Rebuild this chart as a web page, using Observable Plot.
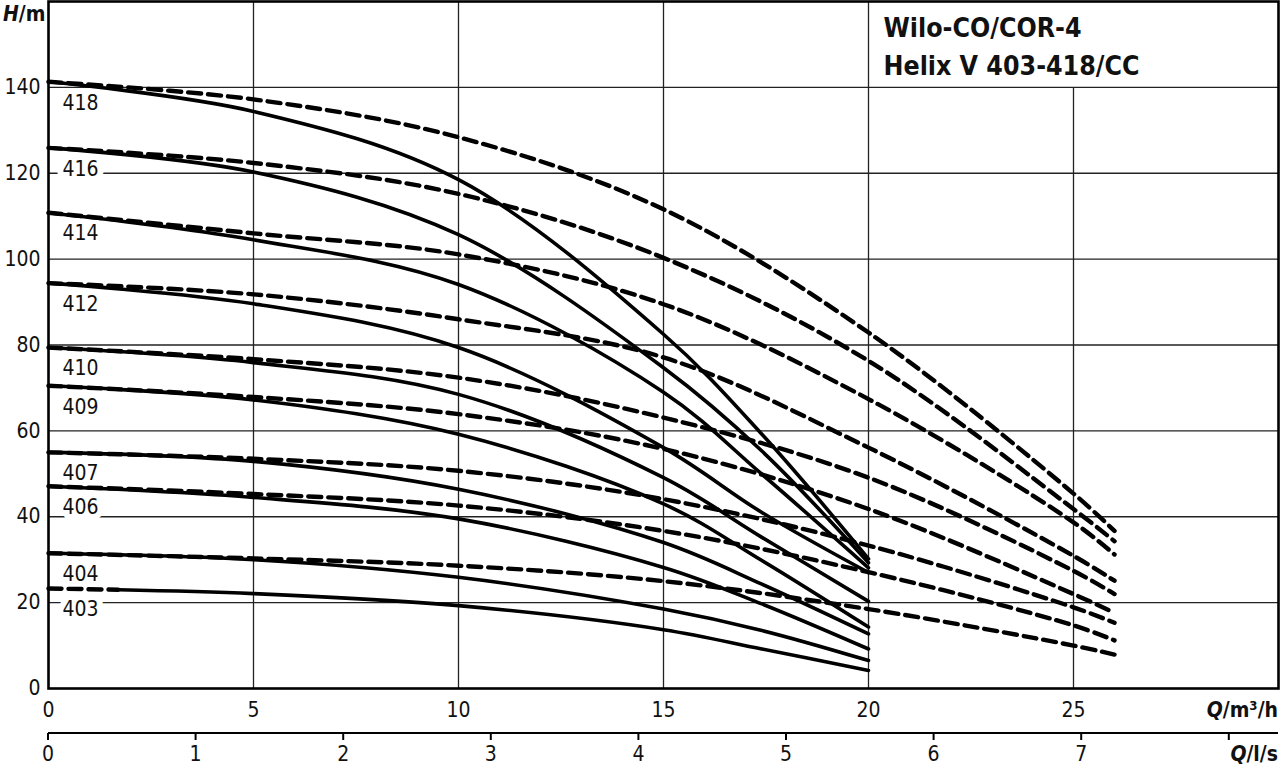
<!DOCTYPE html>
<html><head><meta charset="utf-8">
<script src="https://cdn.jsdelivr.net/npm/d3@7"></script>
<script src="https://cdn.jsdelivr.net/npm/@observablehq/plot@0.6"></script>
<style>
html,body{margin:0;padding:0;background:#fff;}
#chart svg{display:block;}
</style>
</head><body><div id="chart"></div>
<script>
// Pump types
const pumps = ["403","404","406","407","409","410","412","414","416","418"];

// Solid curves (Q in m³/h, H in m)
const solidQ = [0, 5, 10, 15, 17.4, 20];
const solidQ403 = [1.7, 5, 10, 15, 17.4, 20];
const solidH = [
  [23.0, 22.1, 19.3, 13.7, 9.2, 4.2],
  [31.5, 30.0, 25.9, 18.5, 13.5, 6.5],
  [47.1, 44.5, 39.5, 28.2, 19.7, 9.2],
  [55.0, 52.9, 46.4, 34.0, 24.3, 12.7],
  [70.5, 67.2, 59.2, 43.0, 29.8, 14.3],
  [79.4, 75.9, 68.5, 49.1, 35.2, 20.3],
  [94.4, 89.6, 79.4, 56.1, 41.0, 27.0],
  [110.8, 104.5, 94.1, 69.0, 49.9, 28.1],
  [125.9, 120.3, 105.7, 74.7, 55.3, 29.3],
  [141.3, 134.4, 118.5, 82.5, 59.2, 30.2]
];

// Dashed curves (404 ... 418)
const dashPumps = ["404","406","407","409","410","412","414","416","418"];
const dashQ = [0, 5, 10, 15, 20, 25, 26];
const dashH = [
  [31.5, 30.3, 28.6, 25.0, 18.5, 10.0, 7.9],
  [47.1, 45.3, 42.6, 36.7, 27.1, 14.7, 11.2],
  [55.0, 53.5, 50.7, 44.1, 33.3, 18.9, 15.3],
  [70.5, 67.9, 63.9, 55.8, 41.8, 22.0, 17.6],
  [79.4, 76.7, 72.4, 63.1, 49.1, 27.4, 22.0],
  [94.4, 91.8, 86.0, 77.1, 56.1, 30.9, 25.1],
  [110.8, 106.0, 101.1, 89.5, 67.4, 38.7, 31.2],
  [125.9, 122.4, 115.2, 100.3, 76.3, 41.8, 34.3],
  [141.3, 137.2, 128.4, 111.6, 82.9, 45.4, 36.7]
];
const dashQ403 = [0, 1.7];
const dashH403 = [23.3, 23.0];

// Axes / grid
const xTicks = [0, 5, 10, 15, 20, 25];
const yTicks = [0, 20, 40, 60, 80, 100, 120, 140];
const gridQ = [5, 10, 15, 20, 25];
const gridH = [20, 40, 60, 80, 100, 120, 140];
const lsTicks = [0, 1, 2, 3, 4, 5, 6, 7, 8];
const lsLabels = ["0", "1", "2", "3", "4", "5", "6", "7", ""];
const m3hPerLs = 3.6;
const boxQ = 20, boxH = 140;
const titleLines = ["Wilo-CO/COR-4", "Helix V 403-418/CC"];

// Tables
const solidRows = pumps.flatMap((p, i) => (i === 0 ? solidQ403 : solidQ).map((q, j) => ({pump: p, q, h: solidH[i][j]})));
const dashRows = dashPumps.flatMap((p, i) => dashQ.map((q, j) => ({pump: p, q, h: dashH[i][j]})))
  .concat(dashQ403.map((q, j) => ({pump: "403", q, h: dashH403[j]})));
const labelRows = pumps.map((p, i) => ({pump: p, q: 0, h: i === 0 ? dashH403[0] : dashH[i - 1][0]}));

const FONT = "'DejaVu Sans Condensed', 'DejaVu Sans', sans-serif";

const plot = Plot.plot({
  width: 1280, height: 770,
  marginLeft: 48, marginRight: 2, marginTop: 1, marginBottom: 82,
  x: {domain: [0, 30], ticks: xTicks, tickSize: 0, tickPadding: 14, label: null},
  y: {domain: [0, 160], ticks: yTicks, tickSize: 0, tickPadding: 8, label: null},
  style: {fontFamily: FONT, fontSize: "21px", color: "#111", background: "#fff"},
  marks: [
    Plot.ruleX(gridQ, {x: d => d, y1: 0, y2: d => d > boxQ ? boxH : 160, stroke: "#222", strokeWidth: 1.3, strokeOpacity: 1}),
    Plot.ruleY(gridH, {y: d => d, stroke: "#222", strokeWidth: 1.3, strokeOpacity: 1}),
    Plot.text(labelRows, {x: "q", y: "h", text: "pump", dx: 14, dy: 21, textAnchor: "start",
      stroke: "white", strokeWidth: 12, fill: "#111", fontSize: 21}),
    Plot.line(solidRows, {x: "q", y: "h", z: "pump", curve: "catmull-rom", stroke: "#000", strokeWidth: 3.6}),
    Plot.line(dashRows, {x: "q", y: "h", z: "pump", curve: "catmull-rom", stroke: "#000", strokeWidth: 4.4, strokeDasharray: "13,7"}),
    Plot.text([titleLines.join("\n")], {x: () => boxQ, y: () => 160, text: d => d, lineAnchor: "top", textAnchor: "start",
      dx: 15, dy: 8, fontSize: 26.5, fontWeight: "bold", lineHeight: 1.45, fill: "#111"}),
    Plot.frame({stroke: "#000", strokeWidth: 2.6})
  ]
});

document.getElementById("chart").appendChild(plot);

// secondary axis (l/s) and axis titles, drawn with the plot's x scale
const sx = plot.scale("x");
const xs = d3.scaleLinear(sx.domain, sx.range);
const svg = d3.select(plot);
const g = svg.append("g").attr("font-family", FONT).attr("font-size", 21).attr("fill", "#111");
const axisY = 733;
g.append("line").attr("x1", sx.range[0]).attr("x2", sx.range[1]).attr("y1", axisY).attr("y2", axisY)
  .attr("stroke", "#000").attr("stroke-width", 2.2);
g.selectAll(".lst").data(lsTicks).join("line")
  .attr("x1", d => xs(d * m3hPerLs)).attr("x2", d => xs(d * m3hPerLs))
  .attr("y1", axisY).attr("y2", axisY + 7).attr("stroke", "#000").attr("stroke-width", 2);
g.selectAll(".lsl").data(lsTicks).join("text")
  .attr("x", d => xs(d * m3hPerLs)).attr("y", axisY + 21).attr("dy", "0.35em")
  .attr("text-anchor", "middle").text((d, i) => lsLabels[i]);

function axisTitle(x, y, anchor, italicPart, rest) {
  const t = g.append("text").attr("x", x).attr("y", y).attr("dy", "0.35em")
    .attr("text-anchor", anchor).attr("font-weight", "bold");
  t.append("tspan").attr("font-style", "italic").text(italicPart);
  t.append("tspan").text(rest);
}
axisTitle(3, 14, "start", "H", "/m");
axisTitle(sx.range[1], 710, "end", "Q", "/m³/h");
axisTitle(sx.range[1], axisY + 21, "end", "Q", "/l/s");
</script>
</body></html>
